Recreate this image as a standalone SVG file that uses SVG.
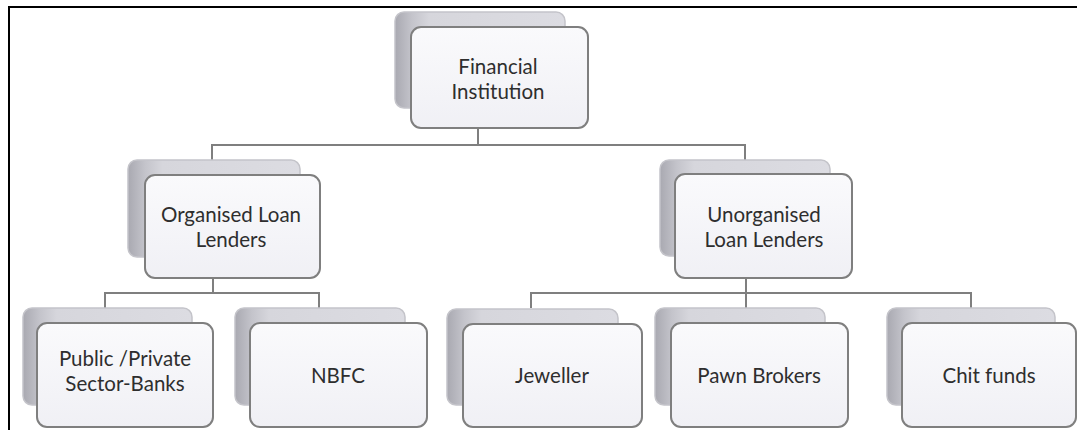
<svg xmlns="http://www.w3.org/2000/svg" width="1077" height="430" viewBox="0 0 1077 430">
<defs>
<linearGradient id="backG" x1="0" y1="0" x2="1" y2="0">
<stop offset="0" stop-color="#a9a9b1"/>
<stop offset="0.1" stop-color="#c4c4cb"/>
<stop offset="0.2" stop-color="#d6d6dc"/>
<stop offset="1" stop-color="#dcdce2"/>
</linearGradient>
<linearGradient id="frontG" x1="0" y1="0" x2="0" y2="1">
<stop offset="0" stop-color="#fafafc"/>
<stop offset="1" stop-color="#f0f0f5"/>
</linearGradient>
<style>
.back{fill:url(#backG);stroke:#c4c4ca;stroke-width:1.5}
.front{fill:url(#frontG);stroke:#7f7f7f;stroke-width:2}
.lbl{font-family:Lato,"Open Sans","Liberation Sans",sans-serif;font-size:20.5px;fill:#2e2e2e;text-anchor:middle}
.con{stroke:#7f7f7f;stroke-width:2;fill:none}
.frame{stroke:#000;stroke-width:2;fill:none}
</style>
</defs>
<rect width="1077" height="430" fill="#ffffff"/>
<path class="frame" d="M9,430 V7 H1077"/>
<g id="connectors">
<path class="con" d="M478,128 V145 M212,160 V145 H745 V160"/>
<path class="con" d="M213,278 V293 M105,308 V293 H319 V308"/>
<path class="con" d="M746,278 V308 M531,308 V293 H971 V308"/>
</g>
<g id="n-financial">
<rect class="back" x="395" y="12" width="170" height="96" rx="9"/>
<rect class="front" x="411" y="27" width="177" height="101" rx="10"/>
<text class="lbl" x="498" y="74">Financial</text>
<text class="lbl" x="498" y="98.5">Institution</text>
</g>
<g id="n-organised">
<rect class="back" x="128" y="160" width="172" height="97" rx="9"/>
<rect class="front" x="145" y="175" width="175" height="103" rx="10"/>
<text class="lbl" x="231" y="222">Organised Loan</text>
<text class="lbl" x="231" y="246.5">Lenders</text>
</g>
<g id="n-unorganised">
<rect class="back" x="660" y="160" width="170" height="96" rx="9"/>
<rect class="front" x="675" y="174" width="177" height="104" rx="10"/>
<text class="lbl" x="764" y="222">Unorganised</text>
<text class="lbl" x="764" y="246.5">Loan Lenders</text>
</g>
<g id="n-public">
<rect class="back" x="23" y="308" width="169" height="97" rx="9"/>
<rect class="front" x="37" y="323" width="176" height="104" rx="10"/>
<text class="lbl" x="125" y="366">Public /Private</text>
<text class="lbl" x="125" y="390.5">Sector-Banks</text>
</g>
<g id="n-nbfc">
<rect class="back" x="235" y="308" width="170" height="97" rx="9"/>
<rect class="front" x="250" y="323" width="177" height="104" rx="10"/>
<text class="lbl" x="338" y="383">NBFC</text>
</g>
<g id="n-jeweller">
<rect class="back" x="447" y="309" width="171" height="96" rx="9"/>
<rect class="front" x="463" y="324" width="179" height="103" rx="10"/>
<text class="lbl" x="552" y="383">Jeweller</text>
</g>
<g id="n-pawn">
<rect class="back" x="655" y="308" width="170" height="97" rx="9"/>
<rect class="front" x="671" y="323" width="177" height="104" rx="10"/>
<text class="lbl" x="759" y="383">Pawn Brokers</text>
</g>
<g id="n-chit">
<rect class="back" x="887" y="308" width="168" height="97" rx="9"/>
<rect class="front" x="902" y="323" width="174" height="104" rx="10"/>
<text class="lbl" x="989" y="383">Chit funds</text>
</g>
</svg>
